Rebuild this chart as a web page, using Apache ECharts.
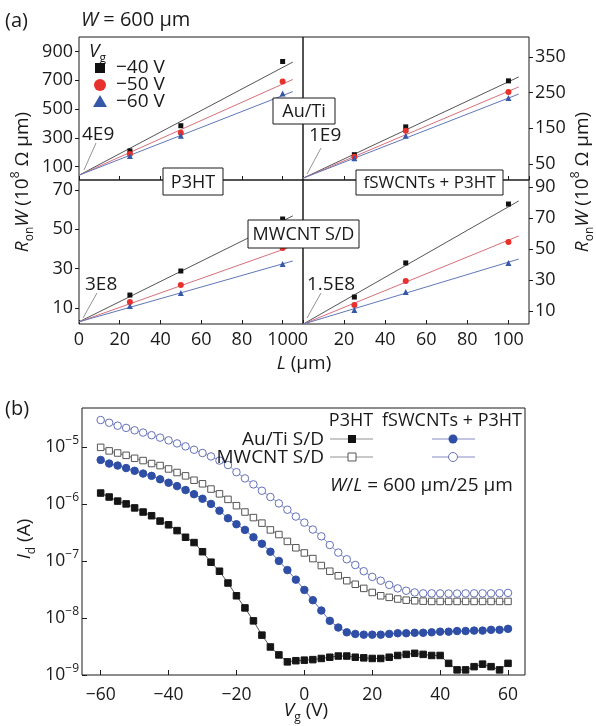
<!DOCTYPE html>
<html>
<head>
<meta charset="utf-8">
<script src="https://cdn.jsdelivr.net/npm/echarts@6/dist/echarts.min.js"></script>
<style>
html, body { margin: 0; padding: 0; background: #fff; }
#main { width: 596px; height: 726px; }
</style>
</head>
<body>
<div id="main"></div>
<script>
// (a) Ron*W in 10^8 Ohm um vs channel length L (um), three gate voltages
var lengths = [25, 50, 100];
var fitL = [0, 105];

var auP3ht40 = [209, 384, 830];
var auP3ht50 = [188, 335, 691];
var auP3ht60 = [174, 314, 607];
var auP3htFit40 = [40, 826];
var auP3htFit50 = [40, 705];
var auP3htFit60 = [40, 621];

var auSwcnt40 = [76, 154, 283];
var auSwcnt50 = [70, 143, 252];
var auSwcnt60 = [66, 129, 235];
var auSwcntFit40 = [10, 294];
var auSwcntFit50 = [10, 266];
var auSwcntFit60 = [10, 246];

var mwP3ht40 = [16.6, 28.8, 55.2];
var mwP3ht50 = [13.1, 21.7, 40.5];
var mwP3ht60 = [11, 17.6, 32.4];
var mwP3htFit40 = [3, 56.8];
var mwP3htFit50 = [3, 41.5];
var mwP3htFit60 = [3, 33.9];

var mwSwcnt40 = [19, 41, 79];
var mwSwcnt50 = [13.9, 29.4, 54.5];
var mwSwcnt60 = [10.6, 22.3, 41];
var mwSwcntFit40 = [1.5, 81];
var mwSwcntFit50 = [1.5, 58.4];
var mwSwcntFit60 = [1.5, 43.5];

var tlTicks = [100, 300, 500, 700, 900];
var trTicks = [50, 150, 250, 350];
var blTicks = [10, 30, 50, 70];
var brTicks = [10, 30, 50, 70, 90];

// (b) transfer curves Id (A) vs Vg (V)
var vg = [-60, -57.5, -55, -52.5, -50, -47.5, -45, -42.5, -40, -37.5, -35, -32.5, -30, -27.5, -25, -22.5,
  -20, -17.5, -15, -12.5, -10, -7.5, -5, -2.5, 0, 2.5, 5, 7.5, 10, 12.5, 15, 17.5,
  20, 22.5, 25, 27.5, 30, 32.5, 35, 37.5, 40, 42.5, 45, 47.5, 50, 52.5, 55, 57.5, 60];

var idAuP3ht = [1.55e-6, 1.32e-6, 1.12e-6, 1.0e-6, 8.5e-7, 7.2e-7, 6.2e-7, 5.0e-7, 4.3e-7, 3.4e-7, 2.6e-7, 2.1e-7,
  1.45e-7, 9.5e-8, 6.6e-8, 4.1e-8, 2.45e-8, 1.5e-8, 8.9e-9, 5.0e-9, 3.1e-9, 2.25e-9, 1.7e-9, 1.78e-9,
  1.82e-9, 1.86e-9, 1.95e-9, 2.05e-9, 2.15e-9, 2.15e-9, 2.05e-9, 2.0e-9, 1.95e-9, 1.95e-9, 2.05e-9, 2.2e-9,
  2.3e-9, 2.4e-9, 2.3e-9, 2.2e-9, 2.2e-9, 1.6e-9, 1.23e-9, 1.23e-9, 1.4e-9, 1.55e-9, 1.4e-9, 1.23e-9, 1.6e-9];

var idMwP3ht = [9.8e-6, 8.5e-6, 7.8e-6, 7.1e-6, 6.3e-6, 5.75e-6, 5.1e-6, 4.7e-6, 4.1e-6, 3.55e-6, 3.1e-6, 2.6e-6,
  2.25e-6, 1.82e-6, 1.5e-6, 1.2e-6, 9.3e-7, 7.2e-7, 5.75e-7, 4.6e-7, 3.5e-7, 2.9e-7, 2.2e-7, 1.7e-7,
  1.38e-7, 1.1e-7, 8.3e-8, 6.6e-8, 5.5e-8, 4.5e-8, 3.9e-8, 3.3e-8, 2.8e-8, 2.45e-8, 2.3e-8, 2.15e-8,
  2.05e-8, 2.0e-8, 1.97e-8, 1.95e-8, 1.95e-8, 1.95e-8, 1.95e-8, 1.95e-8, 1.95e-8, 1.95e-8, 1.95e-8, 1.95e-8, 1.95e-8];

var idAuSwcnt = [5.9e-6, 5.1e-6, 4.7e-6, 4.25e-6, 3.8e-6, 3.4e-6, 3.1e-6, 2.7e-6, 2.35e-6, 2.05e-6, 1.75e-6, 1.48e-6,
  1.23e-6, 1.0e-6, 7.6e-7, 5.6e-7, 4.4e-7, 3.5e-7, 2.6e-7, 2.0e-7, 1.45e-7, 1.0e-7, 6.9e-8, 4.7e-8,
  3.1e-8, 2.05e-8, 1.35e-8, 8.9e-9, 6.8e-9, 5.6e-9, 5.25e-9, 5.1e-9, 5.1e-9, 5.1e-9, 5.25e-9, 5.4e-9,
  5.4e-9, 5.5e-9, 5.5e-9, 5.6e-9, 5.75e-9, 5.75e-9, 5.9e-9, 5.9e-9, 6.0e-9, 6.0e-9, 6.2e-9, 6.2e-9, 6.45e-9];

var idMwSwcnt = [2.95e-5, 2.65e-5, 2.35e-5, 2.15e-5, 1.95e-5, 1.78e-5, 1.6e-5, 1.45e-5, 1.3e-5, 1.15e-5, 1.02e-5, 8.9e-6,
  7.8e-6, 6.8e-6, 5.75e-6, 4.8e-6, 3.6e-6, 2.8e-6, 2.2e-6, 1.7e-6, 1.32e-6, 1.02e-6, 7.9e-7, 6.0e-7,
  4.7e-7, 3.55e-7, 2.7e-7, 1.9e-7, 1.4e-7, 1.07e-7, 8.5e-8, 6.6e-8, 5.25e-8, 4.5e-8, 3.8e-8, 3.3e-8,
  3.0e-8, 2.8e-8, 2.7e-8, 2.7e-8, 2.7e-8, 2.68e-8, 2.68e-8, 2.7e-8, 2.7e-8, 2.7e-8, 2.7e-8, 2.72e-8, 2.75e-8];

var vgTicks = [-60, -40, -20, 0, 20, 40, 60];

var FONT = 'Open Sans';
var INK = '#1a1a1a';
var FS = 19;
var rich = {
  n: { fontFamily: FONT, fontSize: FS, lineHeight: 26, color: INK },
  i: { fontFamily: FONT, fontSize: FS, fontStyle: 'italic', lineHeight: 26, color: INK },
  m: { fontFamily: FONT, fontSize: 18, lineHeight: 24, color: INK },
  box: { fontFamily: FONT, fontSize: 18, lineHeight: 24, color: INK },
  boxs: { fontFamily: FONT, fontSize: 17, lineHeight: 24, color: INK },
  big: { fontFamily: FONT, fontSize: 20, lineHeight: 26, color: INK },
  bigi: { fontFamily: FONT, fontSize: 20, fontStyle: 'italic', lineHeight: 26, color: INK },
  sup: { fontFamily: FONT, fontSize: 12, lineHeight: 12, verticalAlign: 'top', color: INK },
  sub: { fontFamily: FONT, fontSize: 12, lineHeight: 12, verticalAlign: 'bottom', color: INK }
};

function minus(v) { return v < 0 ? '\u2212' + Math.abs(v) : String(v); }

function pairs(xs, ys) { return xs.map(function (x, i) { return [x, ys[i]]; }); }

function fitLine(k, f, color) {
  return { type: 'line', xAxisIndex: k, yAxisIndex: k, data: pairs(fitL, f), symbol: 'none',
    lineStyle: { color: color, width: 1 }, z: 2, silent: true };
}
function dots(k, p, symbol, size, color) {
  return { type: 'scatter', xAxisIndex: k, yAxisIndex: k, data: pairs(lengths, p), symbol: symbol,
    symbolSize: size, itemStyle: { color: color, opacity: 1 }, z: 3 };
}
function panelSeries(k, p40, p50, p60, f40, f50, f60) {
  return [
    fitLine(k, f40, '#555'), fitLine(k, f50, '#d7707a'), fitLine(k, f60, '#6078bb'),
    dots(k, p40, 'rect', 5, '#111'), dots(k, p50, 'circle', 6, '#e8302c'), dots(k, p60, 'triangle', 6, '#3558a8')
  ];
}

function gridBox(l, t, w, h) {
  return { left: l, top: t, width: w, height: h, show: true, borderColor: INK, borderWidth: 1 };
}

// axes never snap to the other axis's zero; the grid border is the frame
var noLine = { show: false, onZero: false };

function xA(k, showLabel) {
  return { type: 'value', gridIndex: k, min: 0, max: 110, interval: 20,
    axisLine: noLine, splitLine: { show: false },
    axisTick: { show: true, inside: true, length: 4, lineStyle: { color: INK } },
    axisLabel: { show: showLabel, fontFamily: FONT, fontSize: 18, color: INK, margin: 7,
      showMaxLabel: false } };
}
function yA(k, min, max, ticks, pos) {
  return { type: 'value', gridIndex: k, min: min, max: max, position: pos,
    axisLine: noLine, splitLine: { show: false },
    axisTick: { show: true, inside: false, length: 4, customValues: ticks, lineStyle: { color: INK } },
    axisLabel: { fontFamily: FONT, fontSize: 18, color: INK, margin: 6, customValues: ticks } };
}

function txt(x, y, text, align, extra) {
  var o = { type: 'text', x: x, y: y, z: 100,
    style: { text: text, rich: rich, font: FS + 'px "' + FONT + '"', fill: INK, align: align || 'left', verticalAlign: 'middle' } };
  if (extra) { for (var key in extra) o[key] = extra[key]; }
  return o;
}
function box(x, y, w, h, label, style) {
  return [
    { type: 'rect', z: 99, shape: { x: x, y: y, width: w, height: h }, style: { fill: '#fff', stroke: INK, lineWidth: 1 } },
    txt(x + w / 2, y + h / 2 + 1, '{' + (style || 'box') + '|' + label + '}', 'center')
  ];
}
function leader(x1, y1, x2, y2, color) {
  return { type: 'line', z: 100, shape: { x1: x1, y1: y1, x2: x2, y2: y2 }, style: { stroke: color || '#777', lineWidth: 0.8 } };
}

function curve(data, symbol, size, fill, border, lineColor) {
  return { type: 'line', xAxisIndex: 4, yAxisIndex: 4, data: pairs(vg, data), symbol: symbol, symbolSize: size,
    itemStyle: { color: fill, borderColor: border, borderWidth: 1 },
    lineStyle: { color: lineColor, width: 1 }, z: 3 };
}

var graphics = [].concat(
  [
    txt(5, 21, '{big|(a)}'),
    txt(81, 20, '{bigi|W}{big| = 600 μm}'),
    txt(89, 52, '{i|V}{sub|g}'),
    { type: 'rect', z: 100, shape: { x: 95, y: 63, width: 10, height: 10 }, style: { fill: '#111' } },
    txt(116, 68, '−40 V'),
    { type: 'circle', z: 100, shape: { cx: 100, cy: 85, r: 6 }, style: { fill: '#e8302c' } },
    txt(116, 85, '−50 V'),
    { type: 'polygon', z: 100, shape: { points: [[100, 95], [107, 107], [93, 107]] }, style: { fill: '#3558a8' } },
    txt(116, 102, '−60 V'),
    txt(82, 135, '4E9'), leader(96, 143, 84, 170),
    txt(309, 136, '1E9'), leader(321, 148, 307, 174),
    txt(85, 285, '3E8'), leader(97, 293, 83, 318),
    txt(307, 285, '1.5E8'), leader(321, 293, 307, 318),
    txt(23, 182, '{i|R}{sub|on}{i|W}{n| (10}{sup|8}{n| Ω μm)}', 'center', { rotation: Math.PI / 2 }),
    txt(583, 182, '{i|R}{sub|on}{i|W}{n| (10}{sup|8}{n| Ω μm)}', 'center', { rotation: Math.PI / 2 }),
    txt(304, 364, '{i|L}{n| (μm)}', 'center'),
    txt(5, 409, '{big|(b)}'),
    txt(25, 539, '{i|I}{sub|d}{n| (A)}', 'center', { rotation: Math.PI / 2 }),
    txt(306, 711, '{i|V}{sub|g}{n| (V)}', 'center'),
    txt(351, 421, '{m|P3HT}', 'center'),
    txt(452, 421, '{m|fSWCNTs + P3HT}', 'center'),
    txt(324, 440, 'Au/Ti S/D', 'right'),
    txt(324, 458, 'MWCNT S/D', 'right'),
    leader(330, 439, 373, 439),
    leader(330, 457, 373, 457),
    leader(432, 439, 475, 439, '#6470b8'),
    leader(432, 457, 475, 457, '#6470b8'),
    { type: 'rect', z: 101, shape: { x: 348, y: 435, width: 8, height: 8 }, style: { fill: '#111' } },
    { type: 'rect', z: 101, shape: { x: 348, y: 453, width: 8, height: 8 }, style: { fill: '#fff', stroke: '#555', lineWidth: 1 } },
    { type: 'circle', z: 101, shape: { cx: 453, cy: 439, r: 4.5 }, style: { fill: '#2f4fa6' } },
    { type: 'circle', z: 101, shape: { cx: 453, cy: 457, r: 4.5 }, style: { fill: '#fff', stroke: '#6470b8', lineWidth: 1 } },
    txt(330, 486, '{i|W}{n|/}{i|L}{n| = 600 μm/25 μm}')
  ],
  box(163, 168, 60, 27, 'P3HT'),
  box(273, 98, 62, 26, 'Au/Ti'),
  box(356, 170, 147, 25, 'fSWCNTs + P3HT', 'boxs'),
  box(248, 220, 111, 28, 'MWCNT S/D')
);

var chart = echarts.init(document.getElementById('main'));
chart.setOption({
  animation: false,
  backgroundColor: '#fff',
  grid: [
    gridBox(79, 37, 224, 143),
    gridBox(303, 37, 226, 143),
    gridBox(79, 180, 224, 144),
    gridBox(303, 180, 226, 144),
    gridBox(82, 408, 443, 267)
  ],
  xAxis: [
    xA(0, false), xA(1, false), xA(2, true), xA(3, true),
    { type: 'value', gridIndex: 4, min: -65.5, max: 65,
      axisLine: noLine, splitLine: { show: false },
      axisTick: { show: true, inside: true, length: 5, customValues: vgTicks, lineStyle: { color: INK } },
      axisLabel: { fontFamily: FONT, fontSize: 17.5, color: INK, margin: 11, customValues: vgTicks, formatter: minus } }
  ],
  yAxis: [
    yA(0, 7, 1000, tlTicks, 'left'),
    yA(1, 5, 406, trTicks, 'right'),
    yA(2, 1.9, 75, blTicks, 'left'),
    yA(3, 1.6, 94.5, brTicks, 'right'),
    { type: 'log', logBase: 10, gridIndex: 4, min: 1e-9, max: 4.8e-5, position: 'left',
      axisLine: noLine, splitLine: { show: false }, minorTick: { show: false },
      axisTick: { show: true, inside: true, length: 5, lineStyle: { color: INK } },
      axisLabel: { margin: 3, showMaxLabel: false,
        formatter: function (v) {
          var e = Math.log10(v), r = Math.round(e);
          if (Math.abs(e - r) > 0.01) return '';
          return '{b|10}{s|\u2212' + Math.abs(r) + '}';
        },
        rich: {
          b: { fontFamily: FONT, fontSize: 17.5, lineHeight: 24, color: INK },
          s: { fontFamily: FONT, fontSize: 12, lineHeight: 12, verticalAlign: 'top', color: INK }
        } } }
  ],
  series: [].concat(
    panelSeries(0, auP3ht40, auP3ht50, auP3ht60, auP3htFit40, auP3htFit50, auP3htFit60),
    panelSeries(1, auSwcnt40, auSwcnt50, auSwcnt60, auSwcntFit40, auSwcntFit50, auSwcntFit60),
    panelSeries(2, mwP3ht40, mwP3ht50, mwP3ht60, mwP3htFit40, mwP3htFit50, mwP3htFit60),
    panelSeries(3, mwSwcnt40, mwSwcnt50, mwSwcnt60, mwSwcntFit40, mwSwcntFit50, mwSwcntFit60),
    [
      curve(idMwSwcnt, 'circle', 7.5, '#fff', '#6470b8', '#8a92c8'),
      curve(idMwP3ht, 'rect', 6.5, '#fff', '#555', '#777'),
      curve(idAuSwcnt, 'circle', 7.5, '#2f4fa6', '#2f4fa6', '#5a72b8'),
      curve(idAuP3ht, 'rect', 6.5, '#151515', '#151515', '#555')
    ]
  ),
  graphic: graphics
});
</script>
</body>
</html>
